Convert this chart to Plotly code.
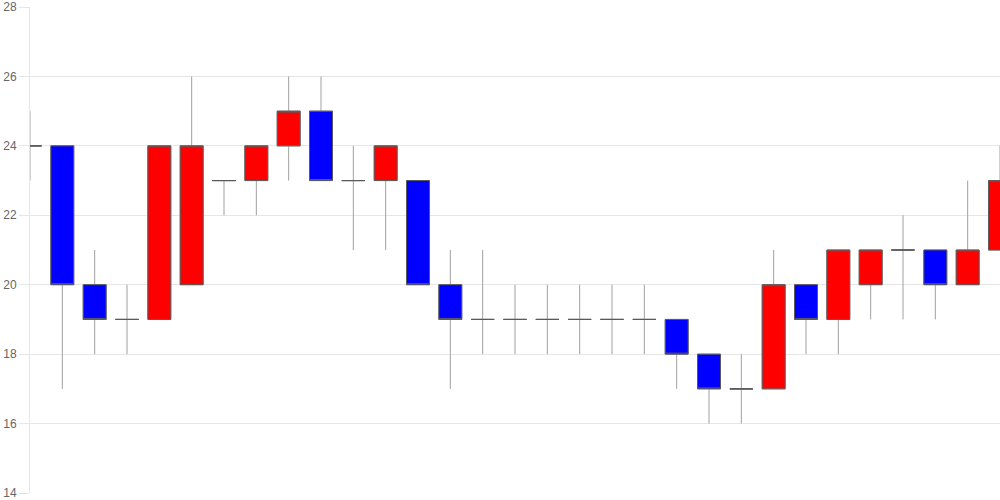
import plotly.graph_objects as go

idx = list(range(31))
opens  = [24, 24, 20, 19, 19, 20, 23, 23, 24, 25, 23, 23, 23, 20, 19, 19, 19, 19, 19, 19, 19, 18, 17, 17, 20, 19, 20, 21, 21, 20, 21]
closes = [24, 20, 19, 19, 24, 24, 23, 24, 25, 23, 23, 24, 20, 19, 19, 19, 19, 19, 19, 19, 18, 17, 17, 20, 19, 21, 21, 21, 20, 21, 23]
highs  = [25, 24, 21, 20, 24, 26, 23, 24, 26, 26, 24, 24, 23, 21, 21, 20, 20, 20, 20, 20, 19, 18, 18, 21, 20, 21, 21, 22, 21, 23, 24]
lows   = [23, 17, 18, 18, 19, 20, 22, 22, 23, 23, 21, 21, 20, 17, 18, 18, 18, 18, 18, 18, 17, 16, 16, 17, 18, 18, 19, 19, 19, 20, 21]
y_ticks = [14, 16, 18, 20, 22, 24, 26, 28]

body_hi = [max(o, c) for o, c in zip(opens, closes)]
body_lo = [min(o, c) for o, c in zip(opens, closes)]

fig = go.Figure()
# wicks
fig.add_trace(go.Candlestick(
    x=idx, open=opens, high=highs, low=lows, close=closes,
    increasing=dict(line=dict(color="#a0a0a0", width=1), fillcolor="rgba(0,0,0,0)"),
    decreasing=dict(line=dict(color="#a0a0a0", width=1), fillcolor="rgba(0,0,0,0)"),
    hoverinfo="skip", showlegend=False,
))
# bodies
fig.add_trace(go.Candlestick(
    x=idx, open=opens, high=body_hi, low=body_lo, close=closes,
    increasing=dict(line=dict(color="#5a5a5a", width=1), fillcolor="#ff0000"),
    decreasing=dict(line=dict(color="#5a5a5a", width=1), fillcolor="#0000ff"),
    showlegend=False,
))

fig.update_layout(
    width=1000, height=500,
    margin=dict(l=30, r=0, t=6, b=6),
    paper_bgcolor="white", plot_bgcolor="white",
    boxgap=0.29, boxgroupgap=0,
    showlegend=False,
    xaxis=dict(range=[0, 30], showticklabels=False, showgrid=False, zeroline=False,
               rangeslider=dict(visible=False), showline=False, fixedrange=True),
    yaxis=dict(range=[14, 28], tickvals=y_ticks, showgrid=True, gridcolor="#e6e6e6",
               gridwidth=1, zeroline=False, showline=True, linecolor="#e6e6e6",
               tickfont=dict(family="Liberation Sans, Arial, sans-serif", size=12, color="#666666"),
               ticks="outside", ticklen=10, tickcolor="#e6e6e6", tickwidth=1,
               ticklabelstandoff=0, ticklabeloverflow="allow", fixedrange=True),
)

fig.write_html("out.html", config={"displayModeBar": False},
               post_script="document.body.style.margin='0';document.body.style.overflow='hidden';")
